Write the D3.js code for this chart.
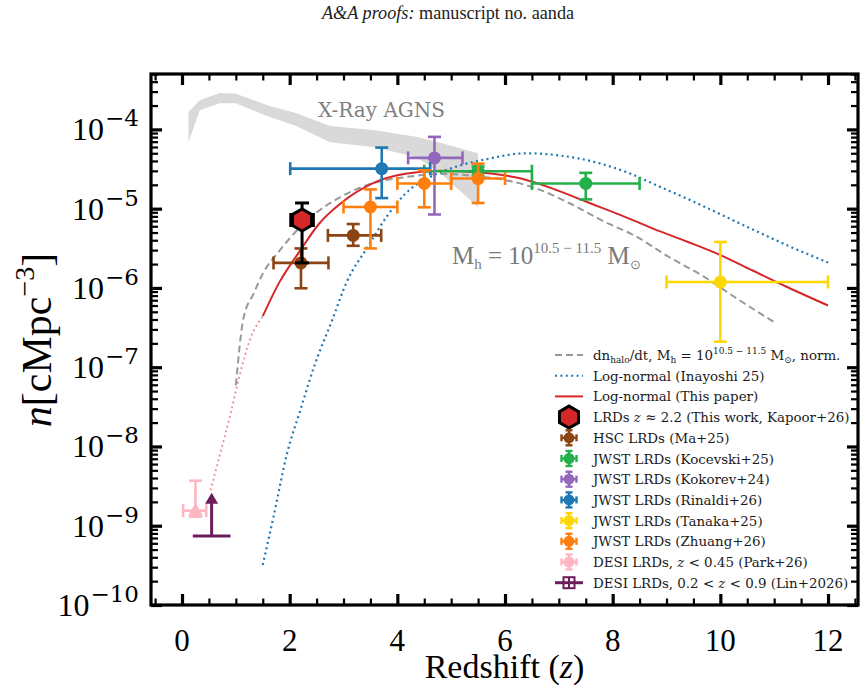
<!doctype html>
<html>
<head>
<meta charset="UTF-8" />
<script src="https://d3js.org/d3.v7.min.js"></script>
<style>
  body { margin: 0; background: #fff; }
  svg { display: block; }
  .serif { font-family: "Liberation Serif", "Times New Roman", serif; }
  .dserif { font-family: "DejaVu Serif", serif; }
</style>
</head>
<body>
<svg id="chart" width="868" height="687"></svg>
<script>
// ---- X-ray AGN band (upper / lower density, cMpc^-3)
const agnZ  = [0.12, 0.33, 0.7, 1.0, 1.6, 2.1, 2.75, 3.55, 4.35, 4.8, 5.5];
const agnHi = [1.66e-4, 2.34e-4, 2.88e-4, 2.82e-4, 2.0e-4, 1.62e-4, 1.1e-4, 9.8e-5, 8.1e-5, 6.8e-5, 5.0e-5];
const agnLo = [6.9e-5, 1.74e-4, 2.14e-4, 2.14e-4, 1.45e-4, 1.12e-4, 6.9e-5, 6.0e-5, 4.5e-5, 2.8e-5, 1.05e-5];

// ---- dn_halo/dt, normalised (grey dashed)
const haloZ = [1.0, 1.14, 1.33, 1.5, 1.82, 2.2, 2.55, 2.95, 3.55, 4.15, 4.8, 5.4, 6.0, 6.6, 7.2, 7.8, 8.45, 9.05, 9.7, 10.3, 11.0];
const haloN = [5.9e-8, 4.1e-7, 8.5e-7, 1.51e-6, 3.0e-6, 5.9e-6, 9.5e-6, 1.41e-5, 2.1e-5, 2.5e-5, 2.75e-5, 2.6e-5, 2.3e-5, 1.78e-5, 1.17e-5, 7.1e-6, 4.4e-6, 2.45e-6, 1.38e-6, 7.4e-7, 3.7e-7];

// ---- log-normal, Inayoshi 25 (blue dotted)
const inaZ = [1.5, 1.7, 1.95, 2.2, 2.45, 2.8, 3.05, 3.45, 3.8, 4.15, 4.6, 5.1, 5.65, 6.4, 7.0, 7.65, 8.25, 8.9, 9.5, 10.1, 10.75, 11.35, 12.0];
const inaN = [3.2e-10, 1.3e-9, 8.1e-9, 2.9e-8, 1.0e-7, 4.1e-7, 1.15e-6, 3.3e-6, 7.9e-6, 1.55e-5, 2.5e-5, 3.4e-5, 4.2e-5, 5.0e-5, 4.7e-5, 3.9e-5, 2.9e-5, 1.86e-5, 1.23e-5, 7.9e-6, 4.9e-6, 3.2e-6, 2.1e-6];

// ---- log-normal, this paper (red) + low-z extrapolation (faint dotted)
const lnZ = [1.5, 1.8, 2.2, 2.55, 2.95, 3.55, 4.15, 4.8, 5.4, 6.3, 6.9, 7.5, 8.15, 8.75, 9.4, 10.0, 10.6, 11.25, 12.0];
const lnN = [4.4e-7, 1.15e-6, 3.0e-6, 6.5e-6, 1.17e-5, 2.1e-5, 2.75e-5, 3.0e-5, 2.9e-5, 2.4e-5, 1.78e-5, 1.23e-5, 8.3e-6, 5.6e-6, 3.8e-6, 2.6e-6, 1.66e-6, 1.02e-6, 6.0e-7];
const lnExtZ = [0.53, 0.71, 0.89, 1.08, 1.26, 1.5];
const lnExtN = [2.8e-9, 8.2e-9, 2.4e-8, 8.4e-8, 2.2e-7, 4.4e-7];

// ---- measurements
const kapoorPts   = [{ z: 2.23, zlo: 2.02, zhi: 2.44, n: 7.2e-6, nlo: 2.07e-6, nhi: 1.18e-5 }];
const maPts       = [{ z: 2.21, zlo: 1.70, zhi: 2.72, n: 2.07e-6, nlo: 9.9e-7, nhi: 3.15e-6 },
                     { z: 3.18, zlo: 2.71, zhi: 3.70, n: 4.6e-6, nlo: 3.4e-6, nhi: 6.4e-6 }];
const kocevskiPts = [{ z: 5.5, zlo: 4.5, zhi: 6.5, n: 2.97e-5, nlo: 2.6e-5, nhi: 3.4e-5 },
                     { z: 7.5, zlo: 6.5, zhi: 8.5, n: 2.08e-5, nlo: 1.31e-5, nhi: 2.83e-5 }];
const kokorevPts  = [{ z: 4.69, zlo: 4.2, zhi: 5.21, n: 4.37e-5, nlo: 8.45e-6, nhi: 8.05e-5 }];
const rinaldiPts  = [{ z: 3.71, zlo: 2.01, zhi: 4.61, n: 3.2e-5, nlo: 1.36e-5, nhi: 5.9e-5 }];
const tanakaPts   = [{ z: 10.0, zlo: 9.0, zhi: 12.0, n: 1.19e-6, nlo: 2.1e-7, nhi: 3.8e-6 }];
const zhuangPts   = [{ z: 3.5, zlo: 3.0, zhi: 4.0, n: 1.05e-5, nlo: 3.15e-6, nhi: 1.75e-5 },
                     { z: 4.5, zlo: 4.0, zhi: 5.0, n: 2.08e-5, nlo: 1.04e-5, nhi: 3.05e-5 },
                     { z: 5.5, zlo: 5.0, zhi: 6.0, n: 2.4e-5, nlo: 1.18e-5, nhi: 3.7e-5 }];
const parkPts     = [{ z: 0.25, zlo: 0.02, zhi: 0.45, n: 1.55e-9, nlo: 1.3e-9, nhi: 3.7e-9 }];
const linPts      = [{ z: 0.55, zlo: 0.2, zhi: 0.9, n: 7.4e-10, tip: 2.6e-9 }];

// ---- ticks
const xTicks = [0, 2, 4, 6, 8, 10, 12];
const yTicks = [1e-10, 1e-9, 1e-8, 1e-7, 1e-6, 1e-5, 1e-4];
const yTickExp = ["−10", "−9", "−8", "−7", "−6", "−5", "−4"];

const C = {
  brown: "#8b4513", green: "#23b04b", purple: "#9467bd", blue: "#1f77b4",
  gold: "#ffd700", orange: "#ff7f0e", pink: "#ffb6c1", lin: "#6b1d5c",
  red: "#d62728", grey: "#808080"
};

const svg = d3.select("#chart");
const W = 868, H = 687;
const L = 151, R = 858, T = 74, B = 605;

const x = d3.scaleLinear().domain([-0.576, 12.557]).range([L, R]);
const y = d3.scaleLog().domain([1e-10, 5e-4]).range([B, T]);

svg.append("rect").attr("width", W).attr("height", H).attr("fill", "#fff");

// header
svg.append("text").attr("class", "serif").attr("x", 322).attr("y", 19)
  .attr("font-size", 18.2).attr("fill", "#222")
  .call(t => {
    t.append("tspan").attr("font-style", "italic").text("A&A proofs:");
    t.append("tspan").text(" manuscript no. aanda");
  });

svg.append("clipPath").attr("id", "clip")
  .append("rect").attr("x", L).attr("y", T).attr("width", R - L).attr("height", B - T);
const plot = svg.append("g").attr("clip-path", "url(#clip)");

function rich(sel, segs, size) {
  segs.forEach(s => {
    const t = sel.append("tspan").text(s.t);
    if (s.i) t.attr("font-style", "italic");
    if (s.fam) t.attr("font-family", s.fam);
    if (s.dx) t.attr("dx", s.dx);
    if (s.sup) t.attr("font-size", s.fs || size * 0.68).attr("baseline-shift", (s.sh || size * 0.42) + "px");
    if (s.sub) t.attr("font-size", s.fs || size * 0.65).attr("baseline-shift", -(s.sh || size * 0.2) + "px");
  });
}

// X-ray AGN band
const agn = agnZ.map((z, i) => ({ z, hi: agnHi[i], lo: agnLo[i] }));
plot.append("path").datum(agn)
  .attr("fill", "#d9d9d9")
  .attr("d", d3.area().x(d => x(d.z)).y0(d => y(d.lo)).y1(d => y(d.hi)).curve(d3.curveLinear));

svg.append("text").attr("class", "dserif").attr("x", 318).attr("y", 117)
  .attr("font-size", 20).attr("fill", C.grey).text("X-Ray AGNS");

svg.append("text").attr("class", "serif").attr("x", 452).attr("y", 264)
  .attr("font-size", 25).attr("fill", "#7a7a7a")
  .call(t => rich(t, [
    { t: "M" }, { t: "h", sub: true, fs: 15 }, { t: " = 10" },
    { t: "10.5 − 11.5", sup: true, fs: 15, sh: 11 }, { t: "  M" }, { t: "⊙", sub: true, fs: 13 }
  ], 25));

// curves
const line = d3.line().x(d => x(d[0])).y(d => y(d[1])).curve(d3.curveMonotoneX);
const zip = (a, b) => a.map((v, i) => [v, b[i]]);

plot.append("path").attr("d", line(zip(lnExtZ, lnExtN)))
  .attr("fill", "none").attr("stroke", C.red).attr("stroke-opacity", 0.55)
  .attr("stroke-width", 1.8).attr("stroke-dasharray", "1.8,3.2");
plot.append("path").attr("d", line(zip(haloZ, haloN)))
  .attr("fill", "none").attr("stroke", "#999").attr("stroke-width", 2)
  .attr("stroke-dasharray", "7,4");
plot.append("path").attr("d", line(zip(inaZ, inaN)))
  .attr("fill", "none").attr("stroke", C.blue).attr("stroke-width", 2.2)
  .attr("stroke-dasharray", "2,3.4");
plot.append("path").attr("d", line(zip(lnZ, lnN)))
  .attr("fill", "none").attr("stroke", C.red).attr("stroke-width", 2);

// error bars
function errPoints(pts, color, opt = {}) {
  const lw = opt.lw || 2.6, cap = opt.cap || 6.5;
  const g = plot.append("g").attr("stroke", opt.bar || color).attr("stroke-width", lw).attr("fill", "none");
  pts.forEach(p => {
    const cx = x(p.z), cy = y(p.n);
    g.append("line").attr("x1", x(p.zlo)).attr("x2", x(p.zhi)).attr("y1", cy).attr("y2", cy);
    g.append("line").attr("x1", cx).attr("x2", cx).attr("y1", y(p.nlo)).attr("y2", y(p.nhi));
    [p.zlo, p.zhi].forEach(z => g.append("line").attr("x1", x(z)).attr("x2", x(z)).attr("y1", cy - cap).attr("y2", cy + cap));
    [p.nlo, p.nhi].forEach(n => g.append("line").attr("x1", cx - cap).attr("x2", cx + cap).attr("y1", y(n)).attr("y2", y(n)));
  });
  pts.forEach(p => {
    const cx = x(p.z), cy = y(p.n);
    if (opt.marker === "tri") {
      plot.append("path").attr("transform", `translate(${cx},${cy})`)
        .attr("d", "M0,-8 L7.5,5 L-7.5,5 Z").attr("fill", color);
    } else if (opt.marker === "hex") {
      const r = 11;
      const pts6 = d3.range(6).map(k => [r * Math.cos(Math.PI / 6 + k * Math.PI / 3), r * Math.sin(Math.PI / 6 + k * Math.PI / 3)]);
      plot.append("path").attr("transform", `translate(${cx},${cy})`)
        .attr("d", "M" + pts6.join("L") + "Z")
        .attr("fill", C.red).attr("stroke", "#000").attr("stroke-width", 3);
    } else {
      plot.append("circle").attr("cx", cx).attr("cy", cy).attr("r", 6.5).attr("fill", color);
    }
  });
}

errPoints(maPts, C.brown);
errPoints(kocevskiPts, C.green);
errPoints(kokorevPts, C.purple);
errPoints(rinaldiPts, C.blue);
errPoints(tanakaPts, C.gold);
errPoints(zhuangPts, C.orange);
errPoints(parkPts, C.pink, { marker: "tri" });

// Lin+2026 lower limit
linPts.forEach(p => {
  const g = plot.append("g").attr("stroke", C.lin).attr("stroke-width", 3);
  g.append("line").attr("x1", x(p.zlo)).attr("x2", x(p.zhi)).attr("y1", y(p.n)).attr("y2", y(p.n));
  g.append("line").attr("x1", x(p.z)).attr("x2", x(p.z)).attr("y1", y(p.n)).attr("y2", y(p.tip) + 9);
  plot.append("path").attr("transform", `translate(${x(p.z)},${y(p.tip)})`)
    .attr("d", "M0,0 L6.5,11 L-6.5,11 Z").attr("fill", C.lin);
});

errPoints(kapoorPts, C.red, { marker: "hex", bar: "#000", lw: 3, cap: 7 });

// axes: inward ticks on all sides
const xMinor = d3.range(-0.5, 12.6, 0.5).filter(v => !xTicks.includes(v));
const yMinor = [];
d3.range(-10, -3).forEach(e => d3.range(2, 10).forEach(k => { const v = k * Math.pow(10, e); if (v <= 5e-4) yMinor.push(v); }));

function tickAxis(axisFn, scale, vals, len, width, tr) {
  svg.append("g").attr("transform", tr)
    .call(axisFn(scale).tickValues(vals).tickSizeInner(-len).tickSizeOuter(0).tickFormat(""))
    .call(g => g.select(".domain").remove())
    .call(g => g.selectAll(".tick line").attr("stroke", "#000").attr("stroke-width", width));
}
tickAxis(d3.axisBottom, x, xTicks, 11, 3.2, `translate(0,${B})`);
tickAxis(d3.axisBottom, x, xMinor, 6.5, 2.2, `translate(0,${B})`);
tickAxis(d3.axisTop, x, xTicks, 11, 3.2, `translate(0,${T})`);
tickAxis(d3.axisTop, x, xMinor, 6.5, 2.2, `translate(0,${T})`);
tickAxis(d3.axisLeft, y, yTicks, 11, 3.2, `translate(${L},0)`);
tickAxis(d3.axisLeft, y, yMinor, 7, 2.2, `translate(${L},0)`);
tickAxis(d3.axisRight, y, yTicks, 11, 3.2, `translate(${R},0)`);
tickAxis(d3.axisRight, y, yMinor, 7, 2.2, `translate(${R},0)`);

svg.append("rect").attr("x", L).attr("y", T).attr("width", R - L).attr("height", B - T)
  .attr("fill", "none").attr("stroke", "#000").attr("stroke-width", 3.2);

// tick labels
svg.append("g").attr("class", "serif").attr("font-size", 31).attr("text-anchor", "middle")
  .selectAll("text").data(xTicks).join("text")
  .attr("x", d => x(d)).attr("y", 651).text(d => d);

svg.append("g").attr("class", "serif").attr("text-anchor", "end")
  .selectAll("text").data(yTicks).join("text")
  .attr("x", 139).attr("y", d => y(d) + 11).attr("font-size", 32)
  .each(function (d, i) {
    rich(d3.select(this), [{ t: "10" }, { t: yTickExp[i], sup: true, fs: 23, sh: 14, dx: 1, fam: "DejaVu Serif" }], 32);
  });

// axis labels
svg.append("text").attr("class", "serif").attr("x", (L + R) / 2).attr("y", 678)
  .attr("text-anchor", "middle").attr("font-size", 34)
  .call(t => rich(t, [{ t: "Redshift (" }, { t: "z", i: true }, { t: ")" }], 34));

svg.append("text").attr("class", "serif").attr("transform", "translate(51,340) rotate(-90)")
  .attr("text-anchor", "middle").attr("font-size", 42)
  .call(t => rich(t, [{ t: "n", i: true }, { t: "[cMpc" }, { t: "−3", sup: true, fs: 28, sh: 17 }, { t: "]" }], 42));

// legend
const legendItems = [
  { kind: "dash", color: "#999", label: [{ t: "dn" }, { t: "halo", sub: true, fs: 9 }, { t: "/dt, M" }, { t: "h", sub: true, fs: 9 }, { t: " = 10" }, { t: "10.5 − 11.5", sup: true, fs: 9, sh: 6 }, { t: " M" }, { t: "⊙", sub: true, fs: 9 }, { t: ", norm." }] },
  { kind: "dot", color: C.blue, label: [{ t: "Log-normal (Inayoshi 25)" }] },
  { kind: "line", color: C.red, label: [{ t: "Log-normal (This paper)" }] },
  { kind: "hex", color: C.red, label: [{ t: "LRDs " }, { t: "z", i: true }, { t: " ≈ 2.2 (This work, Kapoor+26)" }] },
  { kind: "err", color: C.brown, label: [{ t: "HSC LRDs (Ma+25)" }] },
  { kind: "err", color: C.green, label: [{ t: "JWST LRDs (Kocevski+25)" }] },
  { kind: "err", color: C.purple, label: [{ t: "JWST LRDs (Kokorev+24)" }] },
  { kind: "err", color: C.blue, label: [{ t: "JWST LRDs (Rinaldi+26)" }] },
  { kind: "err", color: C.gold, label: [{ t: "JWST LRDs (Tanaka+25)" }] },
  { kind: "err", color: C.orange, label: [{ t: "JWST LRDs (Zhuang+26)" }] },
  { kind: "err", color: C.pink, label: [{ t: "DESI LRDs, " }, { t: "z", i: true }, { t: " < 0.45 (Park+26)" }] },
  { kind: "lim", color: C.lin, label: [{ t: "DESI LRDs, 0.2 < " }, { t: "z", i: true }, { t: " < 0.9 (Lin+2026)" }] }
];

const lg = svg.append("g");
const lx0 = 555, lx1 = 583, lcx = 569, ly0 = 355, ldy = 20.7;
legendItems.forEach((it, i) => {
  const cy = ly0 + i * ldy;
  const g = lg.append("g");
  if (it.kind === "dash" || it.kind === "dot" || it.kind === "line") {
    g.append("line").attr("x1", lx0).attr("x2", lx1).attr("y1", cy).attr("y2", cy)
      .attr("stroke", it.color).attr("stroke-width", 2)
      .attr("stroke-dasharray", it.kind === "dash" ? "7,4" : it.kind === "dot" ? "2,3.4" : null);
  } else if (it.kind === "hex") {
    const r = 11;
    const p6 = d3.range(6).map(k => [r * Math.cos(Math.PI / 6 + k * Math.PI / 3), r * Math.sin(Math.PI / 6 + k * Math.PI / 3)]);
    g.append("path").attr("transform", `translate(${lcx},${cy})`).attr("d", "M" + p6.join("L") + "Z")
      .attr("fill", C.red).attr("stroke", "#000").attr("stroke-width", 3);
  } else if (it.kind === "err") {
    const e = 7.5, c = 3.5;
    const s = g.append("g").attr("stroke", it.color).attr("stroke-width", 2.4);
    s.append("line").attr("x1", lcx - e).attr("x2", lcx + e).attr("y1", cy).attr("y2", cy);
    s.append("line").attr("x1", lcx).attr("x2", lcx).attr("y1", cy - e).attr("y2", cy + e);
    [-e, e].forEach(o => {
      s.append("line").attr("x1", lcx + o).attr("x2", lcx + o).attr("y1", cy - c).attr("y2", cy + c);
      s.append("line").attr("x1", lcx - c).attr("x2", lcx + c).attr("y1", cy + o).attr("y2", cy + o);
    });
    g.append("circle").attr("cx", lcx).attr("cy", cy).attr("r", 5.5).attr("fill", it.color);
  } else if (it.kind === "lim") {
    const s = g.append("g").attr("stroke", it.color).attr("stroke-width", 3).attr("fill", "none");
    s.append("line").attr("x1", lx0).attr("x2", lx1).attr("y1", cy).attr("y2", cy);
    s.append("rect").attr("x", lcx - 5.5).attr("y", cy - 5.5).attr("width", 11).attr("height", 11).attr("stroke-width", 2);
    s.append("line").attr("x1", lcx).attr("x2", lcx).attr("y1", cy - 5.5).attr("y2", cy + 5.5).attr("stroke-width", 2);
  }
  lg.append("text").attr("class", "dserif").attr("x", 593).attr("y", cy + 5)
    .attr("font-size", 13.4).attr("fill", "#1a1a1a")
    .call(t => rich(t, it.label, 13.4));
});
</script>
</body>
</html>
